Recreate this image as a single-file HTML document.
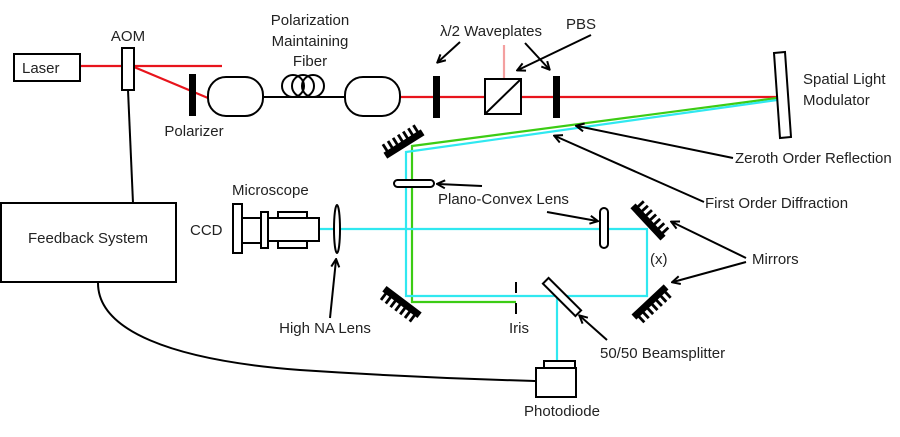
<!DOCTYPE html>
<html><head><meta charset="utf-8"><style>
html,body{margin:0;padding:0;background:#fff}
svg text{font-family:"Liberation Sans",sans-serif;font-size:15px;fill:#222}
</style></head><body>
<svg width="900" height="432" viewBox="0 0 900 432" xmlns="http://www.w3.org/2000/svg">
<defs>
<marker id="ah" markerWidth="10" markerHeight="10" refX="8" refY="5" orient="auto" markerUnits="userSpaceOnUse">
<path d="M1,1 L9,5 L1,9" fill="none" stroke="#000" stroke-width="2"/>
</marker>
<g id="mir">
<rect x="-22" y="-3.5" width="44" height="7" fill="#000"/>
<g stroke="#000" stroke-width="2.8">
<line x1="-18" y1="0" x2="-18" y2="11"/><line x1="-12" y1="0" x2="-12" y2="11"/>
<line x1="-6" y1="0" x2="-6" y2="11"/><line x1="0" y1="0" x2="0" y2="11"/>
<line x1="6" y1="0" x2="6" y2="11"/><line x1="12" y1="0" x2="12" y2="11"/>
<line x1="18" y1="0" x2="18" y2="11"/>
</g>
</g>
</defs>
<g fill="none" stroke-width="2.2">
<line x1="81" y1="66" x2="222" y2="66" stroke="#e8141c"/>
<line x1="134" y1="67" x2="208" y2="98" stroke="#e8141c"/>
<line x1="400" y1="97" x2="777" y2="97" stroke="#e8141c"/>
<line x1="504" y1="45" x2="504" y2="79" stroke="#f4a0a0"/>
<polyline points="777,98 412,146 412,302 516,302" stroke="#3ccc14"/>
<polyline points="777,100 406,152 406,296 647,296 647,229 320,229" stroke="#30e8f0"/>
<line x1="557" y1="296" x2="557" y2="361" stroke="#30e8f0"/>
</g>
<g fill="none" stroke="#000" stroke-width="2">
<rect x="14" y="54" width="66" height="27" fill="#fff"/>
<rect x="122" y="48" width="12" height="42" fill="#fff"/>
<line x1="128" y1="90" x2="133" y2="203"/>
<rect x="1" y="203" width="175" height="79" fill="#fff"/>
<path d="M98,283 C98,330 170,360 300,370 C420,378 500,380 536,381"/>
<rect x="208" y="77" width="55" height="39" rx="18" fill="#fff"/>
<line x1="263" y1="97" x2="345" y2="97"/>
<circle cx="293" cy="86" r="11"/><circle cx="303" cy="86" r="11"/><circle cx="313" cy="86" r="11"/>
<rect x="345" y="77" width="55" height="39" rx="18" fill="#fff"/>
<rect x="485" y="79" width="36" height="35" fill="#fff"/>
<line x1="485" y1="114" x2="521" y2="79"/>
<polygon points="774,53 785,52 791,137 780,138" fill="#fff"/>
<rect x="394" y="180" width="40" height="7" rx="3.5" fill="#fff"/>
<rect x="600" y="208" width="8" height="40" rx="4" fill="#fff"/>
<ellipse cx="337" cy="229" rx="3" ry="24" fill="#fff"/>
<rect x="233" y="204" width="9" height="49" fill="#fff"/>
<rect x="242" y="218" width="19" height="25" fill="#fff"/>
<rect x="261" y="212" width="7" height="36" fill="#fff"/>
<rect x="278" y="212" width="29" height="36" fill="#fff"/>
<rect x="268" y="218" width="51" height="23" fill="#fff"/>
<line x1="516" y1="282" x2="516" y2="293"/>
<line x1="516" y1="303" x2="516" y2="314"/>
<g transform="translate(562,297) rotate(45)"><rect x="-23" y="-4" width="46" height="8" fill="#fff"/></g>
<rect x="544" y="361" width="31" height="7" fill="#fff"/>
<rect x="536" y="368" width="40" height="29" fill="#fff"/>
</g>
<rect x="189" y="74" width="7" height="42" fill="#000"/>
<rect x="433" y="76" width="7" height="42" fill="#000"/>
<rect x="553" y="76" width="7" height="42" fill="#000"/>
<use href="#mir" transform="translate(404,144) rotate(-32) scale(1,-1)"/>
<use href="#mir" transform="translate(402,302) rotate(37)"/>
<use href="#mir" transform="translate(648,222) rotate(47) scale(1,-1)"/>
<use href="#mir" transform="translate(650,302) rotate(-43)"/>
<g stroke="#000" stroke-width="2" fill="none" marker-end="url(#ah)">
<line x1="460" y1="42" x2="438" y2="62"/>
<line x1="525" y1="43" x2="549" y2="69"/>
<line x1="591" y1="35" x2="518" y2="70"/>
<line x1="733" y1="158" x2="577" y2="126"/>
<line x1="704" y1="202" x2="555" y2="136"/>
<line x1="482" y1="186" x2="438" y2="184"/>
<line x1="547" y1="212" x2="597" y2="221"/>
<line x1="330" y1="318" x2="336" y2="260"/>
<line x1="607" y1="340" x2="580" y2="316"/>
<line x1="746" y1="258" x2="672" y2="222"/>
<line x1="746" y1="262" x2="673" y2="282"/>
</g>
<text x="22" y="73">Laser</text>
<text x="128" y="41" text-anchor="middle">AOM</text>
<text x="310" y="25" text-anchor="middle">Polarization</text>
<text x="310" y="46" text-anchor="middle">Maintaining</text>
<text x="310" y="66" text-anchor="middle">Fiber</text>
<text x="194" y="136" text-anchor="middle">Polarizer</text>
<text x="440" y="36">λ/2 Waveplates</text>
<text x="566" y="29">PBS</text>
<text x="803" y="84">Spatial Light</text>
<text x="803" y="105">Modulator</text>
<text x="735" y="163">Zeroth Order Reflection</text>
<text x="705" y="208">First Order Diffraction</text>
<text x="438" y="204">Plano-Convex Lens</text>
<text x="232" y="195">Microscope</text>
<text x="190" y="235">CCD</text>
<text x="88" y="243" text-anchor="middle">Feedback System</text>
<text x="650" y="264">(x)</text>
<text x="752" y="264">Mirrors</text>
<text x="325" y="333" text-anchor="middle">High NA Lens</text>
<text x="509" y="333">Iris</text>
<text x="600" y="358">50/50 Beamsplitter</text>
<text x="562" y="416" text-anchor="middle">Photodiode</text>
</svg>
</body></html>
